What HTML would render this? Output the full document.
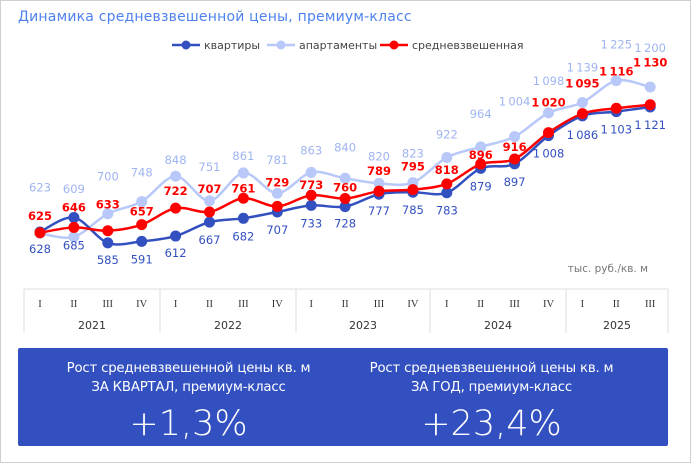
<!DOCTYPE html>
<html><head><meta charset="utf-8">
<style>
body{margin:0;width:691px;height:463px;overflow:hidden;background:#fff;font-family:"DejaVu Sans",sans-serif}
#frame{position:absolute;left:0;top:0;width:689px;height:461px;border:1px solid #cfcfcf}
#title{position:absolute;left:18px;top:9px;font-size:14px;color:#4f82ee;letter-spacing:0.2px;font-family:"DejaVu Sans",sans-serif}
svg{position:absolute;left:0;top:0}
#box{position:absolute;left:18px;top:348px;width:650px;height:98px;background:#3350c0;border-radius:2px;color:#fff}
.kpi{position:absolute;top:11px;width:325px;text-align:center}
.kpi .t{font-size:13.3px;line-height:19px;font-family:"DejaVu Sans",sans-serif;letter-spacing:-0.2px}
.kpi .v{font-size:35px;margin-top:7px;font-family:"DejaVu Sans",sans-serif;font-weight:300}
</style></head><body>
<div id="frame"></div>
<div id="title">Динамика средневзвешенной цены, премиум-класс</div>
<svg id="chart" width="691" height="463"></svg>
<div id="box">
 <div class="kpi" style="left:8px"><div class="t">Рост средневзвешенной цены кв. м<br>ЗА КВАРТАЛ, премиум-класс</div><div class="v">+1,3%</div></div>
 <div class="kpi" style="left:311px"><div class="t">Рост средневзвешенной цены кв. м<br>ЗА ГОД, премиум-класс</div><div class="v">+23,4%</div></div>
</div>
<script>
const quarters=["I","II","III","IV","I","II","III","IV","I","II","III","IV","I","II","III","IV","I","II","III"];
const years=["2021","2022","2023","2024","2025"];
const flats=[628,685,585,591,612,667,682,707,733,728,777,785,783,879,897,1008,1086,1103,1121];
const apartments=[623,609,700,748,848,751,861,781,863,840,820,823,922,964,1004,1098,1139,1225,1200];
const weighted=[625,646,633,657,722,707,761,729,773,760,789,795,818,896,916,1020,1095,1116,1130];
// label placement offsets (layout only)
const flatsLabelDy=[21,32,21,22,21,22,22,22,22,21,21,22,22,22,22,22,23,22,22];
const aptLabelDy=[-42,-44,-33,-25,-12,-30,-13,-29,-18,-27,-23,-25,-19,-29,-31,-28,-31,-32,-35];
const wLabelDy=[-13,-16,-22,-9,-13,-19,-6,-20,-6,-7,-16,-19,-10,-5,-8,-26,-26,-33,-38];
const NS="http://www.w3.org/2000/svg";
const svg=document.getElementById('chart');
const x0=40,dx=33.9;
function X(i){return x0+i*dx;}
function Y(v){return 232-(v-628)*0.2535;}
function fmt(v){return v>=1000?Math.floor(v/1000)+"\u2009"+String(v%1000).padStart(3,"0"):String(v);}
function mk(tag,attrs){const e=document.createElementNS(NS,tag);for(const k in attrs)e.setAttribute(k,attrs[k]);svg.appendChild(e);return e;}
function smooth(pts,t){
  let d="M"+pts[0][0]+","+pts[0][1];
  for(let i=0;i<pts.length-1;i++){
    const p0=pts[Math.max(0,i-1)],p1=pts[i],p2=pts[i+1],p3=pts[Math.min(pts.length-1,i+2)];
    const c1=[p1[0]+(p2[0]-p0[0])*t,p1[1]+(p2[1]-p0[1])*t];
    const c2=[p2[0]-(p3[0]-p1[0])*t,p2[1]-(p3[1]-p1[1])*t];
    d+=" C"+c1[0]+","+c1[1]+" "+c2[0]+","+c2[1]+" "+p2[0]+","+p2[1];
  }
  return d;
}
function series(vals,color,name,dys,bold,labColor){
  const pts=vals.map((v,i)=>[X(i),Y(v)]);
  const p=mk('path',{d:smooth(pts,0.16),fill:"none",stroke:color,"stroke-width":2.5,"stroke-linejoin":"round"});
  
  
  vals.forEach((v,i)=>{
    const c=mk('circle',{cx:X(i),cy:Y(v),r:5.5,fill:color});
    
    
    const t=mk('text',{x:X(i),y:Y(v)+dys[i],"text-anchor":"middle","font-size":11.5,fill:labColor,"font-weight":bold?"bold":"normal"});
    t.textContent=fmt(v);
    
    
  });
}
series(apartments,"#b8c8f8","apartments",aptLabelDy,false,"#9fb4f2");
series(flats,"#3350c0","flats",flatsLabelDy,false,"#3350c0");
series(weighted,"#ff0000","weighted",wLabelDy,true,"#ff0000");
// legend
const leg=[["квартиры","#3350c0",172],["апартаменты","#b8c8f8",267],["средневзвешенная","#ff0000",380]];
leg.forEach(l=>{
  const ln=mk('line',{x1:l[2],y1:45,x2:l[2]+28,y2:45,stroke:l[1],"stroke-width":2.5});
  
  
  mk('circle',{cx:l[2]+14,cy:45,r:4.5,fill:l[1]});
  const t=mk('text',{x:l[2]+32,y:49,"font-size":11,fill:"#444"});
  t.textContent=l[0];
  
  
});
const u=mk('text',{x:648,y:272,"text-anchor":"end","font-size":10.5,fill:"#777"});
u.textContent="тыс. руб./кв. м";


// category table
mk('line',{x1:24,y1:289,x2:668,y2:289,stroke:"#ddd","stroke-width":1});
const bounds=[24,160,296,430,566,668];
bounds.forEach(b=>{const l=mk('line',{x1:b,y1:289,x2:b,y2:333,stroke:"#ddd","stroke-width":1});});
quarters.forEach((q,i)=>{
  const t=mk('text',{x:X(i),y:307,"text-anchor":"middle","font-size":10.5,fill:"#333","font-family":"Liberation Serif,serif"});
  t.textContent=q;
  
  
});
years.forEach((y,i)=>{
  const t=mk('text',{x:(bounds[i]+bounds[i+1])/2,y:329,"text-anchor":"middle","font-size":11,fill:"#333"});
  t.textContent=y;
  
  
});
</script>
</body></html>
